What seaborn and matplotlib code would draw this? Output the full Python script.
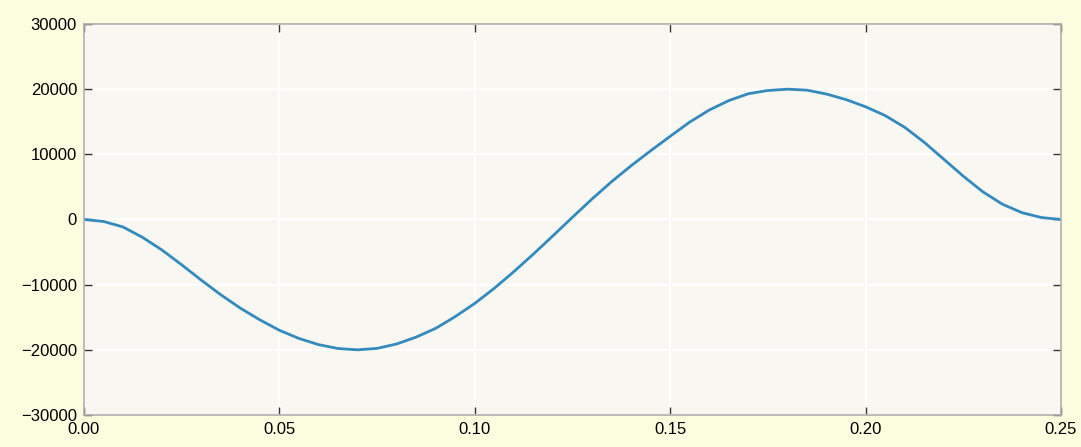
import matplotlib
matplotlib.use("Agg")
import numpy as np
import pandas as pd
import seaborn as sns
import matplotlib.pyplot as plt

# values
t_values = [0.000, 0.005, 0.010, 0.015, 0.020, 0.025, 0.030, 0.035, 0.040, 0.045,
            0.050, 0.055, 0.060, 0.065, 0.070, 0.075, 0.080, 0.085, 0.090, 0.095,
            0.100, 0.105, 0.110, 0.115, 0.120, 0.125, 0.130, 0.135, 0.140, 0.145,
            0.150, 0.155, 0.160, 0.165, 0.170, 0.175, 0.180, 0.185, 0.190, 0.195,
            0.200, 0.205, 0.210, 0.215, 0.220, 0.225, 0.230, 0.235, 0.240, 0.245,
            0.250]
y_values = [0, -300, -1150, -2750, -4700, -6950, -9300, -11550, -13600, -15400,
            -17000, -18250, -19200, -19800, -20000, -19780, -19100, -18050, -16700, -14900,
            -12870, -10550, -8000, -5300, -2500, 350, 3150, 5800, 8250, 10550,
            12770, 14950, 16800, 18250, 19300, 19800, 20000, 19850, 19250, 18400,
            17300, 15950, 14150, 11850, 9250, 6650, 4250, 2350, 1050, 300,
            0]
x_ticks = [0.00, 0.05, 0.10, 0.15, 0.20, 0.25]
y_ticks = [-30000, -20000, -10000, 0, 10000, 20000, 30000]

sns.set_style("whitegrid")
plt.rcParams["font.family"] = ["Liberation Sans", "DejaVu Sans"]

df = pd.DataFrame({"t": t_values, "y": y_values})

fig = plt.figure(figsize=(10.81, 4.47), dpi=100, facecolor="#fcfddf")
ax = fig.add_axes([0.0777, 0.0716, 0.9038, 0.8747])
ax.set_facecolor("#f8f7f1")

sns.lineplot(data=df, x="t", y="y", ax=ax, color="#348ABD", linewidth=2)

ax.set_xlim(0, 0.25)
ax.set_ylim(-30000, 30000)
ax.set_xticks(x_ticks)
ax.set_yticks(y_ticks)
ax.set_xticklabels([f"{v:.2f}" for v in x_ticks])
ax.set_xlabel("")
ax.set_ylabel("")

ax.grid(True, color="white", linewidth=1.5)
for s in ax.spines.values():
    s.set_color("#b0b0b0")
    s.set_linewidth(1.2)
ax.tick_params(direction="in", length=6, width=1, color="#333333",
               top=True, right=True, left=True, bottom=True,
               labelsize=12, labelcolor="black", pad=5)

fig.savefig("out.png", dpi=100, facecolor=fig.get_facecolor())
